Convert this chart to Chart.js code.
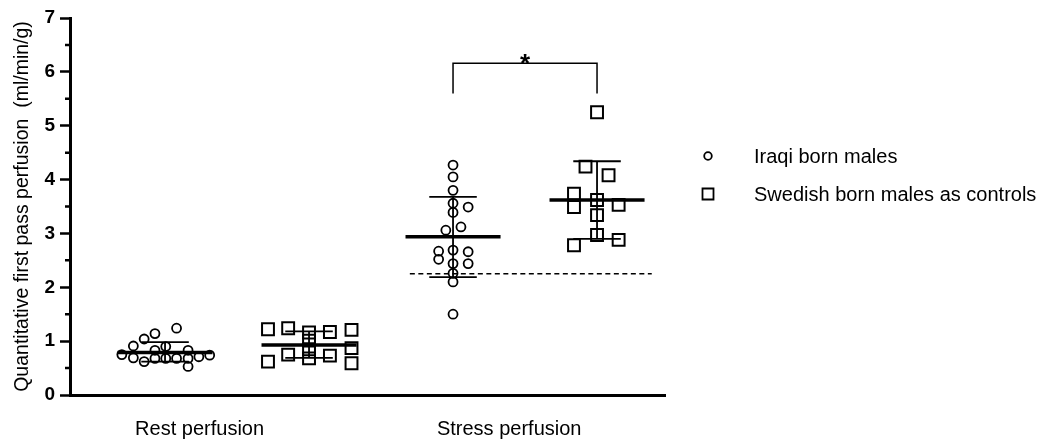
<!DOCTYPE html>
<html>
<head>
<meta charset="utf-8">
<script src="https://cdn.jsdelivr.net/npm/chart.js@4"></script>
<style>
  html, body { margin: 0; padding: 0; background: #fff; }
  #wrap { width: 1045px; height: 439px; }
</style>
</head>
<body>
<div id="wrap"><canvas id="perfusionChart"></canvas></div>
<script>
const categories = ["Rest perfusion", "Stress perfusion"];
const seriesNames = ["Iraqi born males", "Swedish born males as controls"];
const yTicks = [0, 1, 2, 3, 4, 5, 6, 7];

// individual values per group, plus the sideways scatter
const iraqiRest = [0.75, 0.91, 0.69, 1.04, 0.62, 1.14, 0.83, 0.68, 0.90, 0.68, 1.24, 0.68, 0.83, 0.68, 0.53, 0.71, 0.74];
const iraqiRestX = [-0.30, -0.22, -0.22, -0.145, -0.145, -0.07, -0.07, -0.07, 0.005, 0.005, 0.08, 0.08, 0.16, 0.16, 0.16, 0.235, 0.31];
const swedishRest = [1.22, 0.62, 1.24, 0.75, 1.16, 1.01, 0.85, 0.68, 1.17, 0.73, 1.21, 0.87, 0.59];
const swedishRestX = [-0.285, -0.285, -0.145, -0.145, 0, 0, 0, 0, 0.145, 0.145, 0.295, 0.295, 0.295];
const iraqiStress = [4.27, 4.05, 3.80, 3.56, 3.39, 2.69, 2.44, 2.26, 2.10, 1.50, 3.49, 2.66, 2.44, 2.67, 2.52, 3.06, 3.12];
const iraqiStressX = [0, 0, 0, 0, 0, 0, 0, 0, 0, 0, 0.105, 0.105, 0.105, -0.10, -0.10, -0.05, 0.055];
const swedishStress = [3.74, 3.49, 2.78, 4.24, 5.25, 3.62, 3.34, 2.97, 4.08, 3.53, 2.88];
const swedishStressX = [-0.16, -0.16, -0.16, -0.08, 0, 0, 0, 0, 0.08, 0.15, 0.15];

// mean and SD bars, order: Iraqi rest, Swedish rest, Iraqi stress, Swedish stress
const groupMeans = [0.79, 0.93, 2.94, 3.62];
const groupSdLow = [0.62, 0.69, 2.19, 2.90];
const groupSdHigh = [0.98, 1.18, 3.68, 4.34];
const cutoffValue = 2.25;
const bracketTop = 6.16;
const bracketFoot = 5.6;
const pLabel = "*";

const FONT = "'Liberation Sans', Arial, Helvetica, sans-serif";

function points(values, offsets, group) {
  return values.map((v, i) => ({ x: group + offsets[i], y: v }));
}

function circleSet(label, data) {
  return {
    label: label,
    data: data,
    pointStyle: "circle",
    pointRadius: 4.5,
    pointBorderWidth: 1.8,
    borderColor: "#000",
    backgroundColor: "rgba(0,0,0,0)"
  };
}

function squareSet(label, data) {
  return {
    label: label,
    data: data,
    pointStyle: "rect",
    pointRadius: 8.4,
    pointBorderWidth: 2,
    borderColor: "#000",
    backgroundColor: "rgba(0,0,0,0)"
  };
}

const summaryLines = {
  id: "summaryLines",
  afterDatasetsDraw(chart) {
    const { ctx, scales: { x, y } } = chart;
    ctx.save();
    ctx.strokeStyle = "#000";
    groupMeans.forEach((m, g) => {
      const cx = x.getPixelForValue(g);
      const half = x.getPixelForValue(g + 0.33) - cx;
      const cap = x.getPixelForValue(g + 0.165) - cx;
      const yLo = y.getPixelForValue(groupSdLow[g]);
      const yHi = y.getPixelForValue(groupSdHigh[g]);
      const yM = y.getPixelForValue(m);

      ctx.lineWidth = 1.8;
      ctx.beginPath();
      ctx.moveTo(cx, yLo); ctx.lineTo(cx, yHi);
      ctx.moveTo(cx - cap, yLo); ctx.lineTo(cx + cap, yLo);
      ctx.moveTo(cx - cap, yHi); ctx.lineTo(cx + cap, yHi);
      ctx.stroke();

      ctx.lineWidth = 3.5;
      ctx.beginPath();
      ctx.moveTo(cx - half, yM); ctx.lineTo(cx + half, yM);
      ctx.stroke();
    });

    // dashed reference line over the stress groups
    const yc = y.getPixelForValue(cutoffValue);
    ctx.lineWidth = 1.5;
    ctx.setLineDash([5, 3.5]);
    ctx.beginPath();
    ctx.moveTo(x.getPixelForValue(1.70), yc);
    ctx.lineTo(x.getPixelForValue(3.38), yc);
    ctx.stroke();
    ctx.setLineDash([]);

    // significance bracket
    const bx1 = x.getPixelForValue(2), bx2 = x.getPixelForValue(3);
    const bt = y.getPixelForValue(bracketTop), bf = y.getPixelForValue(bracketFoot);
    ctx.lineWidth = 1.5;
    ctx.beginPath();
    ctx.moveTo(bx1, bf); ctx.lineTo(bx1, bt); ctx.lineTo(bx2, bt); ctx.lineTo(bx2, bf);
    ctx.stroke();
    ctx.fillStyle = "#000";
    ctx.font = "bold 26px " + FONT;
    ctx.textAlign = "center";
    ctx.textBaseline = "alphabetic";
    ctx.fillText(pLabel, x.getPixelForValue(2.5), bt + 9);
    ctx.restore();
  }
};

const sideLegend = {
  id: "sideLegend",
  afterDraw(chart) {
    const ctx = chart.ctx;
    const rows = [{ y: 156, style: "circle" }, { y: 194, style: "rect" }];
    ctx.save();
    ctx.strokeStyle = "#000";
    ctx.fillStyle = "#000";
    ctx.font = "20px " + FONT;
    ctx.textAlign = "left";
    ctx.textBaseline = "middle";
    rows.forEach((r, i) => {
      ctx.lineWidth = 1.8;
      ctx.beginPath();
      if (r.style === "circle") {
        ctx.arc(708, r.y, 3.8, 0, Math.PI * 2);
      } else {
        ctx.rect(702.5, r.y - 5.5, 11, 11);
      }
      ctx.stroke();
      ctx.fillText(seriesNames[i], 754, r.y + 1);
    });
    ctx.restore();
  }
};

const ctx = document.getElementById("perfusionChart").getContext("2d");

new Chart(ctx, {
  type: "scatter",
  data: {
    datasets: [
      circleSet(seriesNames[0], points(iraqiRest, iraqiRestX, 0)),
      squareSet(seriesNames[1], points(swedishRest, swedishRestX, 1)),
      circleSet(seriesNames[0], points(iraqiStress, iraqiStressX, 2)),
      squareSet(seriesNames[1], points(swedishStress, swedishStressX, 3))
    ]
  },
  options: {
    responsive: true,
    maintainAspectRatio: false,
    animation: false,
    events: [],
    layout: { padding: { top: 18, left: 10, right: 380, bottom: 0 } },
    plugins: {
      legend: { display: false },
      tooltip: { enabled: false }
    },
    scales: {
      x: {
        type: "linear",
        min: -0.66,
        max: 3.472,
        grid: { display: false, drawTicks: false },
        border: { display: true, color: "#000", width: 3 },
        afterBuildTicks: (scale) => {
          scale.ticks = [{ value: 0.24 }, { value: 2.39 }];
        },
        afterFit: (scale) => { scale.height = 44; },
        ticks: {
          autoSkip: false,
          maxRotation: 0,
          padding: 22,
          color: "#000",
          font: { family: FONT, size: 20 },
          callback: (v, i) => categories[i]
        }
      },
      y: {
        min: 0,
        max: 7,
        afterBuildTicks: (scale) => {
          scale.ticks = yTicks.map(v => ({ value: v }));
        },
        afterFit: (scale) => { scale.width = 60; },
        grid: {
          drawOnChartArea: false,
          drawTicks: true,
          tickLength: 10,
          tickWidth: 2.5,
          tickColor: "#000"
        },
        border: { display: true, color: "#000", width: 3 },
        ticks: {
          padding: 5,
          color: "#000",
          font: { family: FONT, size: 19, weight: "bold" }
        },
        title: {
          display: true,
          text: "Quantitative first pass perfusion  (ml/min/g)",
          color: "#000",
          font: { family: FONT, size: 19.5 },
          padding: { top: 1, bottom: 0 }
        }
      }
    }
  },
  plugins: [summaryLines, sideLegend, {
    id: "minorTicks",
    afterDraw(chart) {
      const { ctx, scales: { y } } = chart;
      ctx.save();
      ctx.strokeStyle = "#000";
      ctx.lineWidth = 2.5;
      ctx.beginPath();
      for (let i = 0; i < yTicks.length - 1; i++) {
        const py = y.getPixelForValue(yTicks[i] + 0.5);
        ctx.moveTo(y.right - 5, py);
        ctx.lineTo(y.right, py);
      }
      ctx.stroke();
      ctx.restore();
    }
  }]
});
</script>
</body>
</html>
